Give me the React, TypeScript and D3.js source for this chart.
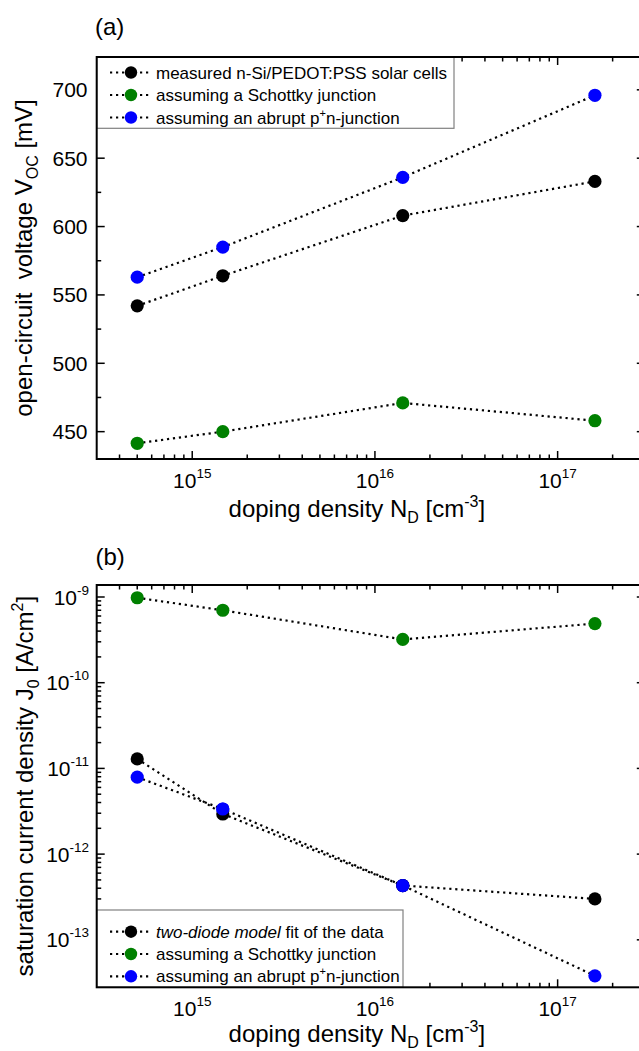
import React from "react";
import * as d3 from "d3";

// ---- data ----
const dopingDensity = [5e14, 1.47e15, 1.42e16, 1.6e17];

const vocMeasured = [542, 564, 608, 633];
const vocSchottky = [441.5, 450, 471, 458];
const vocAbrupt = [563, 585, 636, 696];

const j0TwoDiode = [1.29e-11, 2.94e-12, 4.3e-13, 3.0e-13];
const j0Schottky = [9.8e-10, 7.0e-10, 3.2e-10, 4.9e-10];
const j0Abrupt = [7.9e-12, 3.36e-12, 4.3e-13, 3.8e-14];

const vocTicks = [450, 500, 550, 600, 650, 700];
const xMajorExp = [15, 16, 17];
const j0MajorExp = [-9, -10, -11, -12, -13];

const legendA = [
  "measured n-Si/PEDOT:PSS solar cells",
  "assuming a Schottky junction",
  "assuming an abrupt p+n-junction",
];
const legendB = [
  "two-diode model fit of the data",
  "assuming a Schottky junction",
  "assuming an abrupt p+n-junction",
];

const COLORS = { black: "#000000", green: "#008000", blue: "#0000ff" };
const FONT = "'Liberation Sans', Arial, Helvetica, sans-serif";

const W = 639;
const H = 1051;
const L = 96.7;
const R = 644.8;

const x = d3.scaleLog().domain([3e14, 3e17]).range([L, R]);

const A = { top: 57, bottom: 459 };
const B = { top: 585, bottom: 987.3 };
const yA = d3.scaleLinear().domain([430, 724]).range([A.bottom, A.top]);
const yB = d3
  .scaleLog()
  .domain([Math.pow(10, -13.554), Math.pow(10, -8.86)])
  .range([B.bottom, B.top]);

function logMinor(domain: number[]) {
  const [a, b] = domain[0] < domain[1] ? domain : [domain[1], domain[0]];
  const out: number[] = [];
  for (let e = Math.floor(Math.log10(a)); e <= Math.ceil(Math.log10(b)); e++) {
    for (let k = 2; k <= 9; k++) {
      const v = k * Math.pow(10, e);
      if (v > a * 1.0001 && v < b * 0.9999) out.push(v);
    }
  }
  return out;
}

const xMinor = logMinor(x.domain());
const yBMinor = logMinor(yB.domain());
const yAMinor = d3.range(475, 724, 50);

const MAJ = 8;
const MIN = 4.5;

function XTicks({ top, bottom }: { top: number; bottom: number }) {
  return (
    <g stroke="#000" strokeWidth={1.5}>
      {xMajorExp.map((e) => {
        const px = x(Math.pow(10, e));
        return (
          <g key={"M" + e}>
            <line x1={px} x2={px} y1={bottom} y2={bottom - MAJ} />
            <line x1={px} x2={px} y1={top} y2={top + MAJ} />
          </g>
        );
      })}
      {xMinor.map((v, i) => {
        const px = x(v);
        return (
          <g key={"m" + i}>
            <line x1={px} x2={px} y1={bottom} y2={bottom - MIN} />
            <line x1={px} x2={px} y1={top} y2={top + MIN} />
          </g>
        );
      })}
    </g>
  );
}

function XLabels({ bottom, titleDy }: { bottom: number; titleDy: number }) {
  return (
    <g fontFamily={FONT} fill="#000">
      {xMajorExp.map((e) => (
        <text key={e} x={x(Math.pow(10, e))} y={bottom + 29} textAnchor="middle" fontSize={21}>
          10
          <tspan fontSize={13.5} dy={-10}>
            {e}
          </tspan>
        </text>
      ))}
      <text x={(225.7 + 488) / 2} y={bottom + titleDy} textAnchor="middle" fontSize={24}>
        doping density N
        <tspan fontSize={16} dy={6}>
          D
        </tspan>
        <tspan dy={-6}> [cm</tspan>
        <tspan fontSize={16} dy={-10}>
          -3
        </tspan>
        <tspan dy={10}>]</tspan>
      </text>
    </g>
  );
}

function Series({
  xs,
  ys,
  yScale,
  color,
}: {
  xs: number[];
  ys: number[];
  yScale: (v: number) => number;
  color: string;
}) {
  const pts = xs.map((v, i) => [x(v), yScale(ys[i])] as [number, number]);
  const path = d3.line()(pts) || "";
  return (
    <g>
      <path d={path} fill="none" stroke="#000" strokeWidth={2.2} strokeDasharray="2.2 3.8" />
      {pts.map((p, i) => (
        <circle key={i} cx={p[0]} cy={p[1]} r={6.6} fill={color} />
      ))}
    </g>
  );
}

function LegendRow({ y, color, children }: { y: number; color: string; children: any }) {
  return (
    <g>
      <line x1={110} x2={152} y1={y} y2={y} stroke="#000" strokeWidth={2.2} strokeDasharray="2.2 3.8" />
      <circle cx={131} cy={y} r={6.2} fill={color} />
      <text x={156} y={y} dy="0.36em" fontSize={17} fontFamily={FONT} fill="#000">
        {children}
      </text>
    </g>
  );
}

function PText({ s }: { s: string }) {
  const idx = s.indexOf("p+n");
  if (idx < 0) return <>{s}</>;
  return (
    <>
      {s.slice(0, idx)}p
      <tspan fontSize={11} dy={-7}>
        +
      </tspan>
      <tspan dy={7}>{s.slice(idx + 2)}</tspan>
    </>
  );
}

export default function App() {
  const seriesColors = [COLORS.black, COLORS.green, COLORS.blue];
  const rowsA = [72.5, 95, 117.5];
  const rowsB = [931.7, 954, 976.3];
  return (
    <div style={{ position: "absolute", left: 0, top: 0 }}>
      <svg width={W} height={H} viewBox={`0 0 ${W} ${H}`} style={{ display: "block", background: "#fff" }}>
        <rect x={0} y={0} width={W} height={H} fill="#fff" />

        {/* ---------- Panel (a) ---------- */}
        <text x={95} y={26.7} dy="0.36em" fontSize={24} fontFamily={FONT}>
          (a)
        </text>
        <XTicks top={A.top} bottom={A.bottom} />
        <g stroke="#000" strokeWidth={1.5}>
          {vocTicks.map((v) => (
            <g key={v}>
              <line x1={L} x2={L + MAJ} y1={yA(v)} y2={yA(v)} />
              <line x1={R} x2={R - MAJ} y1={yA(v)} y2={yA(v)} />
            </g>
          ))}
          {yAMinor.map((v) => (
            <g key={v}>
              <line x1={L} x2={L + MIN} y1={yA(v)} y2={yA(v)} />
              <line x1={R} x2={R - MIN} y1={yA(v)} y2={yA(v)} />
            </g>
          ))}
        </g>
        <g fontFamily={FONT} fontSize={21} textAnchor="end">
          {vocTicks.map((v) => (
            <text key={v} x={87.5} y={yA(v)} dy="0.36em">
              {v}
            </text>
          ))}
        </g>
        <XLabels bottom={A.bottom} titleDy={57.5} />
        <text
          transform={`translate(32,${(A.top + A.bottom) / 2}) rotate(-90)`}
          textAnchor="middle"
          fontSize={24}
          fontFamily={FONT}
          style={{ whiteSpace: "pre" }}
        >
          {"open-circuit  voltage V"}
          <tspan fontSize={16} dy={6}>
            OC
          </tspan>
          <tspan dy={-6}> [mV]</tspan>
        </text>

        <Series xs={dopingDensity} ys={vocMeasured} yScale={yA} color={COLORS.black} />
        <Series xs={dopingDensity} ys={vocSchottky} yScale={yA} color={COLORS.green} />
        <Series xs={dopingDensity} ys={vocAbrupt} yScale={yA} color={COLORS.blue} />

        <rect x={L} y={A.top} width={454 - L} height={128.3 - A.top} fill="#fff" stroke="#808080" strokeWidth={1.2} />
        {legendA.map((s, i) => (
          <LegendRow key={i} y={rowsA[i]} color={seriesColors[i]}>
            <PText s={s} />
          </LegendRow>
        ))}
        <rect x={L} y={A.top} width={R - L} height={A.bottom - A.top} fill="none" stroke="#000" strokeWidth={2} />

        {/* ---------- Panel (b) ---------- */}
        <text x={95.5} y={556.7} dy="0.36em" fontSize={24} fontFamily={FONT}>
          (b)
        </text>
        <XTicks top={B.top} bottom={B.bottom} />
        <g stroke="#000" strokeWidth={1.5}>
          {j0MajorExp.map((e) => {
            const py = yB(Math.pow(10, e));
            return (
              <g key={e}>
                <line x1={L} x2={L + MAJ} y1={py} y2={py} />
                <line x1={R} x2={R - MAJ} y1={py} y2={py} />
              </g>
            );
          })}
          {yBMinor.map((v, i) => (
            <g key={i}>
              <line x1={L} x2={L + MIN} y1={yB(v)} y2={yB(v)} />
              <line x1={R} x2={R - MIN} y1={yB(v)} y2={yB(v)} />
            </g>
          ))}
        </g>
        <XLabels bottom={B.bottom} titleDy={55} />
        <text
          transform={`translate(33,${(B.top + B.bottom) / 2}) rotate(-90)`}
          textAnchor="middle"
          fontSize={24}
          fontFamily={FONT}
        >
          saturation current density J
          <tspan fontSize={16} dy={6}>
            0
          </tspan>
          <tspan dy={-6}> [A/cm</tspan>
          <tspan fontSize={16} dy={-10}>
            2
          </tspan>
          <tspan dy={10}>]</tspan>
        </text>

        <Series xs={dopingDensity} ys={j0Schottky} yScale={yB} color={COLORS.green} />
        <Series xs={dopingDensity} ys={j0Abrupt} yScale={yB} color={COLORS.blue} />
        <Series xs={dopingDensity} ys={j0TwoDiode} yScale={yB} color={COLORS.black} />
        <circle cx={x(dopingDensity[2])} cy={yB(j0Abrupt[2])} r={6.6} fill={COLORS.blue} />
        <circle cx={x(dopingDensity[1])} cy={yB(j0Abrupt[1])} r={6.6} fill={COLORS.blue} />

        <rect x={L} y={910} width={403 - L} height={B.bottom - 910} fill="#fff" stroke="#808080" strokeWidth={1.2} />
        <LegendRow y={rowsB[0]} color={COLORS.black}>
          <tspan fontStyle="italic">two-diode model</tspan> fit of the data
        </LegendRow>
        {legendB.slice(1).map((s, i) => (
          <LegendRow key={i} y={rowsB[i + 1]} color={seriesColors[i + 1]}>
            <PText s={s} />
          </LegendRow>
        ))}
        <g fontFamily={FONT} fontSize={21} textAnchor="end">
          {j0MajorExp.map((e) => (
            <text key={e} x={89} y={yB(Math.pow(10, e))} dy="0.36em">
              10
              <tspan fontSize={13.5} dy={-10}>
                {e}
              </tspan>
            </text>
          ))}
        </g>
        <rect x={L} y={B.top} width={R - L} height={B.bottom - B.top} fill="none" stroke="#000" strokeWidth={2} />
      </svg>
    </div>
  );
}
